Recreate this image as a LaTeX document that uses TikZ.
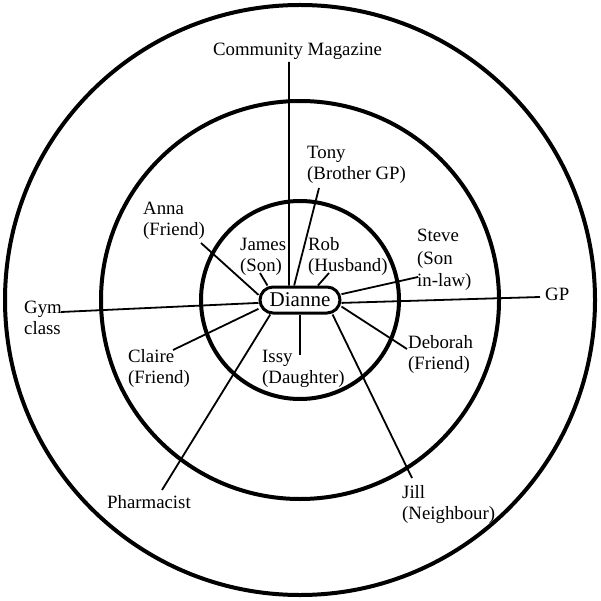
\documentclass[tikz,border=0pt]{standalone}
\usepackage{fontspec}
\setmainfont{Liberation Serif}
\begin{document}
\begin{tikzpicture}[x=1pt,y=-1pt,
  ring/.style={line width=4pt},
  conn/.style={line width=1.8pt},
  lbl/.style={inner sep=0pt,align=left,anchor=north west,font=\fontsize{18.8}{21}\selectfont},
  lbl1/.style={inner sep=0pt,font=\fontsize{18.8}{21}\selectfont},
  centre/.style={draw,line width=3pt,rounded corners=13pt,fill=white,inner sep=0pt,
    minimum width=80pt,minimum height=26pt,font=\fontsize{21}{24}\selectfont}]
\useasboundingbox (0,0) rectangle (600,601);
% rings
\draw[ring] (300,300) circle [radius=295pt];
\draw[ring] (300,300) circle [radius=199pt];
\draw[ring] (300,300) circle [radius=99pt];
% labels
\node[lbl1,anchor=base] (cm) at (297.5,56) {Community Magazine};
\node[lbl] (tony) at (307,143.3) {\strut Tony\\(Brother GP)};
\node[lbl] (james) at (240,235.3) {\strut James\\(Son)};
\node[lbl] (rob) at (308,235.3) {\strut Rob\\(Husband)};
\node[lbl] (anna) at (143,199.3) {\strut Anna\\(Friend)};
\node[lbl,font=\fontsize{18.8}{22.5}\selectfont] (steve) at (417,226) {\strut Steve\\(Son\\in-law)};
\node[lbl1,anchor=base west] (gp) at (545,300) {GP};
\node[lbl] (gym) at (24,298.3) {\strut Gym\\class};
\node[lbl] (claire) at (128,347.3) {\strut Claire\\(Friend)};
\node[lbl1,anchor=base west] (pharm) at (107,508) {Pharmacist};
\node[lbl] (issy) at (262,347.3) {\strut Issy\\(Daughter)};
\node[lbl] (deb) at (408,333.3) {\strut Deborah\\(Friend)};
\node[lbl] (jill) at (402,483.3) {\strut Jill\\(Neighbour)};
% connector ends
\coordinate (cmE) at (289,62);
\coordinate (tonyE) at (319,188);
\coordinate (jamesE) at (260,273);
\coordinate (robE) at (329,273);
\coordinate (annaE) at (201,243);
\coordinate (steveE) at (418,277);
\coordinate (gpE) at (540,297);
\coordinate (gymE) at (61,312);
\coordinate (claireE) at (173,350);
\coordinate (pharmE) at (162,490);
\coordinate (issyE) at (300,355);
\coordinate (debE) at (407,349);
\coordinate (jillE) at (412,478);
% centre
\node[centre] (dianne) at (300,300) {Dianne};
% connectors
\draw[conn] (dianne.127) -- (cmE);
\draw[conn] (dianne.112) -- (tonyE);
\draw[conn] (dianne.156) -- (jamesE);
\draw[conn] (dianne.39) -- (robE);
\draw[conn] (dianne.173) -- (annaE);
\draw[conn] (dianne.8) -- (steveE);
\draw[conn] (dianne.-4) -- (gpE);
\draw[conn] (dianne.184) -- (gymE);
\draw[conn] (dianne.192) -- (claireE);
\draw[conn] (dianne.206) -- (pharmE);
\draw[conn] (dianne.270) -- (issyE);
\draw[conn] (dianne.-9.5) -- (debE);
\draw[conn] (dianne.-24) -- (jillE);
\end{tikzpicture}
\end{document}
